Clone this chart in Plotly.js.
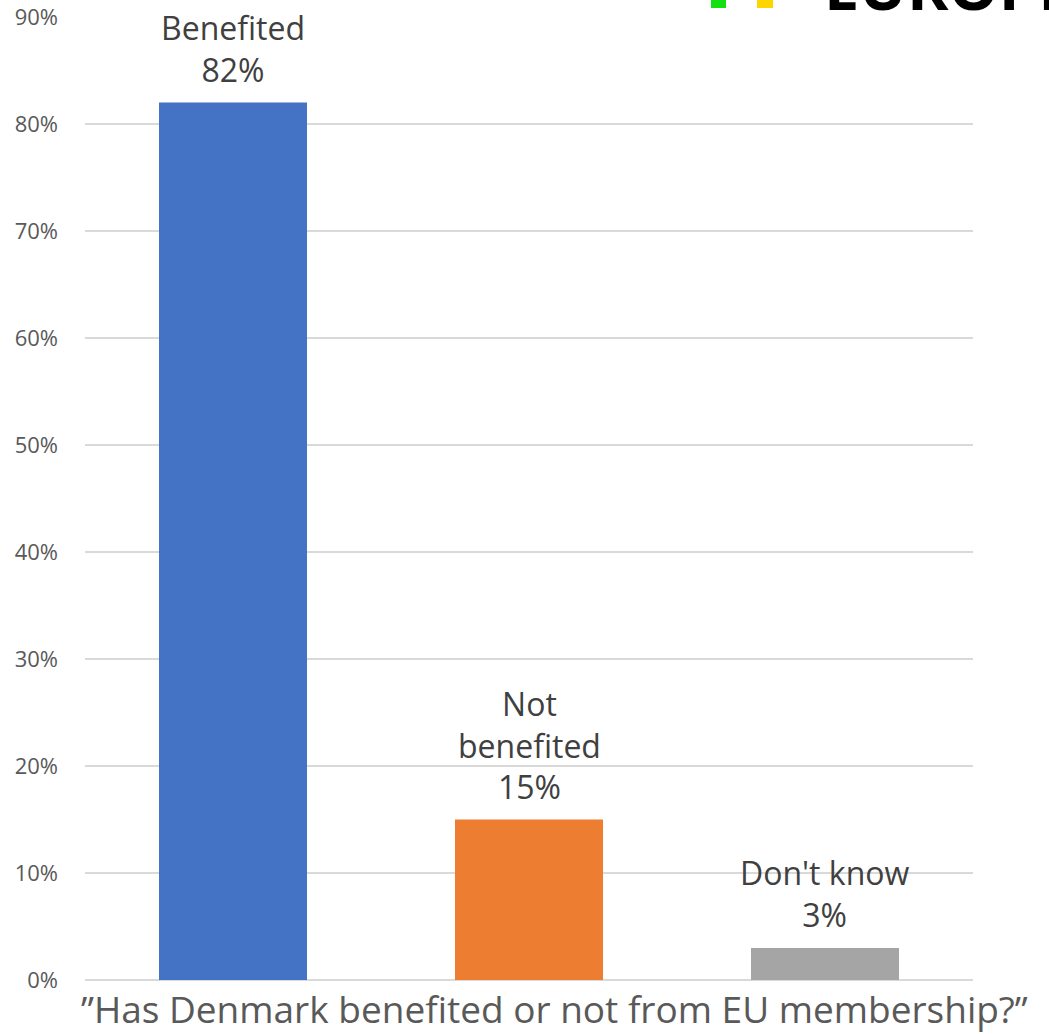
<!DOCTYPE html>
<html>
<head>
<meta charset="utf-8">
<script src="https://cdn.plot.ly/plotly-3.0.1.min.js"></script>
<style>html,body{margin:0;padding:0;background:#fff;}#chart{width:1049px;height:1034px;}</style>
</head>
<body>
<div id="chart"></div>
<script>
const categories = ["Benefited", "Not benefited", "Don't know"];
const labelLines = ["Benefited", "Not<br>benefited", "Don't know"];
const values = [82, 15, 3];
const barColors = ["#4472C4", "#ED7D31", "#A5A5A5"];
const yTickValues = [0, 10, 20, 30, 40, 50, 60, 70, 80, 90];
const yTickText = yTickValues.map(v => v + '%');
const axisTitle = "\u201DHas Denmark benefited or not from EU membership?\u201D";
const logoText = "EUROPE";

const W = 1049, H = 1034;
const m = {l: 85, r: 76, t: 17, b: 54};
const pw = W - m.l - m.r, ph = H - m.t - m.b;
const px = x => (x - m.l) / pw;
const py = y => (H - m.b - y) / ph;

const trace = {
  type: 'bar',
  x: categories,
  y: values,
  marker: {color: barColors},
  hoverinfo: 'skip'
};

const labelAnnotations = categories.map((c, i) => ({
  x: c, y: values[i], xref: 'x', yref: 'y',
  text: labelLines[i] + '<br>' + values[i] + '%',
  xanchor: 'center', yanchor: 'bottom', yshift: 10,
  showarrow: false,
  font: {family: 'Open Sans, sans-serif', size: 32, color: '#404040'}
}));

const layout = {
  width: W, height: H,
  margin: m,
  paper_bgcolor: '#ffffff',
  plot_bgcolor: '#ffffff',
  showlegend: false,
  bargap: 0.5,
  font: {family: 'Open Sans, sans-serif', color: '#595959'},
  xaxis: {
    showticklabels: false, showgrid: false, zeroline: false,
    showline: false, ticks: '', fixedrange: true
  },
  yaxis: {
    range: [0, 90],
    tickmode: 'array',
    tickvals: yTickValues,
    ticktext: yTickText,
    tickfont: {family: 'Open Sans, sans-serif', size: 22, color: '#595959'},
    showgrid: true, gridcolor: '#d9d9d9', gridwidth: 2,
    zeroline: true, zerolinecolor: '#d9d9d9', zerolinewidth: 2,
    showline: false, ticks: '', ticklabelstandoff: 26, fixedrange: true
  },
  shapes: [
    {type: 'rect', xref: 'paper', yref: 'paper', x0: px(711), x1: px(726), y0: py(8), y1: py(-8),
     fillcolor: '#12e012', line: {width: 0}},
    {type: 'rect', xref: 'paper', yref: 'paper', x0: px(757), x1: px(773), y0: py(8), y1: py(-8),
     fillcolor: '#ffd500', line: {width: 0}}
  ],
  annotations: labelAnnotations.concat([
    {text: axisTitle, xref: 'paper', yref: 'paper', x: px(554), y: py(1008),
     xanchor: 'center', yanchor: 'middle', showarrow: false,
     font: {family: 'Open Sans, sans-serif', size: 37, color: '#595959'}},
    {text: '<b>' + logoText + '</b>', xref: 'paper', yref: 'paper', x: px(822), y: py(30),
     xanchor: 'left', yanchor: 'bottom', showarrow: false,
     font: {family: 'Open Sans, sans-serif', size: 63, color: '#000000'}}
  ])
};

Plotly.newPlot('chart', [trace], layout, {displayModeBar: false, staticPlot: true});
</script>
</body>
</html>
